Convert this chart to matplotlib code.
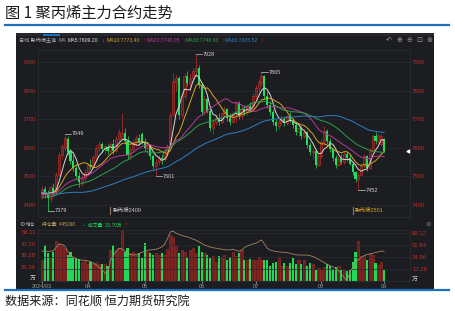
import matplotlib
matplotlib.use("Agg")
import matplotlib.pyplot as plt
from matplotlib.lines import Line2D
from matplotlib.patches import Rectangle
import numpy as np
import pandas as pd

plt.rcParams["font.family"] = ["Liberation Sans", "Noto Sans CJK SC", "DejaVu Sans"]

W, H = 455, 311

# daily OHLC of the PP main contract, 2024-03 .. 2024-09
opens = [7430, 7455, 7440, 7425, 7460, 7445, 7505, 7575, 7600, 7630, 7585, 7555, 7530, 7500, 7480, 7495,
         7515, 7540, 7535, 7565, 7600, 7612, 7595, 7602, 7590, 7612, 7590, 7630, 7635, 7650, 7625, 7570, 7595, 7620, 7635, 7648,
         7622, 7600, 7610, 7570, 7535, 7550, 7565, 7560, 7590, 7605, 7715, 7830, 7845, 7715, 7780, 7850, 7825, 7845, 7870, 7880,
         7820, 7725, 7770, 7730, 7670, 7690, 7705, 7690, 7720, 7735, 7705, 7690, 7720, 7755, 7710, 7735, 7725, 7745, 7735,
         7780, 7810, 7830, 7850, 7780, 7750, 7725, 7690, 7675, 7690, 7700, 7685, 7710, 7695, 7680, 7655, 7670, 7640, 7655, 7610, 7585, 7590, 7540,
         7570, 7620, 7660, 7625, 7595, 7565, 7540, 7560, 7550, 7580, 7565, 7545, 7515, 7490, 7505, 7535, 7570, 7530, 7590, 7640, 7625, 7615,
         7630]
highs = [7465, 7468, 7452, 7470, 7478, 7515, 7585, 7615, 7649, 7640, 7595, 7575, 7545, 7515, 7505, 7525,
         7545, 7560, 7575, 7610, 7625, 7620, 7612, 7615, 7622, 7630, 7640, 7665, 7722, 7670, 7640, 7605, 7630, 7645, 7650, 7655,
         7635, 7620, 7615, 7580, 7560, 7575, 7580, 7600, 7615, 7725, 7860, 7855, 7850, 7790, 7860, 7870, 7860, 7880, 7928, 7890,
         7830, 7780, 7780, 7740, 7700, 7715, 7720, 7725, 7745, 7740, 7720, 7730, 7765, 7765, 7745, 7750, 7750, 7760, 7790,
         7820, 7840, 7865, 7855, 7800, 7765, 7735, 7700, 7700, 7715, 7710, 7715, 7725, 7705, 7690, 7680, 7675, 7665, 7660, 7620, 7600, 7595, 7580,
         7630, 7675, 7665, 7635, 7600, 7575, 7570, 7580, 7590, 7590, 7580, 7550, 7520, 7515, 7545, 7580, 7575, 7600, 7650, 7655, 7650, 7650,
         7635]
lows = [7420, 7425, 7379, 7412, 7432, 7440, 7500, 7560, 7590, 7575, 7545, 7520, 7490, 7462, 7465, 7480,
        7505, 7525, 7530, 7560, 7585, 7585, 7580, 7578, 7585, 7580, 7585, 7620, 7630, 7615, 7560, 7560, 7585, 7605, 7610, 7615,
        7590, 7580, 7560, 7525, 7501, 7540, 7545, 7555, 7580, 7600, 7710, 7800, 7700, 7705, 7770, 7815, 7800, 7830, 7850, 7810,
        7715, 7715, 7720, 7660, 7650, 7680, 7680, 7685, 7705, 7695, 7680, 7685, 7690, 7700, 7700, 7715, 7715, 7725, 7730,
        7770, 7790, 7815, 7770, 7740, 7715, 7680, 7660, 7665, 7680, 7675, 7680, 7690, 7670, 7645, 7640, 7630, 7635, 7600, 7575, 7560, 7530, 7535,
        7565, 7610, 7615, 7585, 7555, 7530, 7535, 7545, 7545, 7555, 7540, 7505, 7480, 7452, 7500, 7530, 7520, 7525, 7585, 7615, 7615, 7605,
        7585]
closes = [7455, 7435, 7425, 7462, 7442, 7505, 7575, 7605, 7635, 7585, 7555, 7530, 7500, 7480, 7495, 7515,
          7540, 7535, 7568, 7600, 7615, 7595, 7605, 7590, 7612, 7590, 7630, 7655, 7650, 7625, 7575, 7595, 7620, 7635, 7620, 7622,
          7600, 7610, 7570, 7535, 7550, 7565, 7560, 7590, 7605, 7715, 7835, 7845, 7715, 7780, 7850, 7825, 7845, 7870, 7880, 7820,
          7725, 7770, 7730, 7670, 7690, 7705, 7690, 7720, 7735, 7705, 7690, 7720, 7755, 7710, 7735, 7725, 7745, 7735, 7780,
          7810, 7830, 7850, 7780, 7750, 7725, 7690, 7675, 7690, 7700, 7685, 7710, 7695, 7680, 7655, 7670, 7640, 7655, 7610, 7585, 7590, 7540, 7570,
          7620, 7660, 7625, 7595, 7565, 7540, 7560, 7550, 7580, 7565, 7545, 7515, 7490, 7505, 7535, 7570, 7530, 7590, 7640, 7625, 7645, 7640,
          7590]
# closes before the first visible day, only needed for the moving averages
hist_closes = [7540, 7545, 7535, 7550, 7530, 7520, 7540, 7525, 7510, 7515, 7500, 7495, 7505, 7480, 7470, 7460,
               7440, 7420, 7410, 7405, 7400, 7395, 7410, 7405, 7390, 7400, 7415, 7410, 7400, 7395, 7405, 7420,
               7410, 7400, 7395, 7405, 7415, 7420, 7410, 7405,
               7415, 7425, 7430, 7420, 7435, 7440, 7430, 7425, 7440, 7445, 7435, 7440, 7430, 7445, 7450, 7440,
               7435, 7445, 7440]
# volume (万手) and open interest (万手)
volumes = [30, 52, 40, 33, 42, 57, 55, 52, 47, 38, 42, 35, 33, 32, 28, 30,
           25, 28, 25, 27, 25, 24, 25, 21, 45, 52, 45, 48, 73, 42, 48, 40, 42, 38, 40, 33,
           55, 42, 40, 38, 40, 38, 40, 38, 46, 66, 63, 50, 40, 45, 42, 35, 45, 48, 40, 50,
           42, 40, 38, 33, 36, 28, 36, 34, 38, 30, 34, 42, 36, 40, 44, 30, 30, 31, 30,
           30, 34, 30, 30, 30, 21, 26, 28, 35, 21, 26, 21, 26, 33, 24, 30, 24, 30, 21, 26, 24, 16, 19,
           16, 20, 24, 22, 18, 20, 22, 16, 18, 15, 16, 27, 42, 57, 36, 38, 30, 40, 38, 26, 23, 28,
           16]
open_interest = [40.3, 40.2, 40.0, 40.2, 40.5, 44.0, 46.6, 46.5, 45.0, 40.0, 36.6, 34.5, 33.0, 32.0, 31.8, 31.5,
                 31.2, 30.5, 29.0, 27.5, 25.0, 23.0, 20.0, 18.0, 31.9, 36.0, 40.0, 42.9, 42.5, 40.5, 38.5, 37.0, 36.6, 37.0, 38.0, 39.0,
                 40.0, 41.0, 41.3, 41.5, 42.0, 42.9, 44.0, 46.5, 52.0, 58.0, 59.0, 57.0, 56.0, 55.0, 54.0, 53.6, 52.5, 51.5, 50.5, 49.0,
                 47.5, 46.0, 45.0, 44.0, 43.4, 43.0, 42.5, 42.0, 41.5, 41.3, 41.5, 41.9, 41.0, 40.0, 41.0, 43.5, 45.0, 46.0, 47.0,
                 47.6, 49.0, 50.7, 47.0, 43.0, 41.3, 40.5, 39.8, 39.5, 39.3, 39.0, 39.0, 38.0, 37.5, 36.8, 36.6, 36.6, 36.5, 36.5, 36.0, 35.2, 34.0, 32.5,
                 31.0, 29.5, 28.0, 26.5, 25.7, 24.0, 22.0, 19.0, 15.5, 12.5, 20.0, 25.0, 29.5, 32.0, 34.5, 36.0, 37.0, 37.5, 38.2, 39.0, 39.5, 40.3,
                 40.0]

month_idx = [0, 16, 36, 56, 75, 98, 120]
month_labels = ["2024/03", "04", "05", "06", "07", "08", "09"]
price_ticks = [7400, 7500, 7600, 7700, 7800, 7900]
oi_ticks = [25.36, 36.28, 47.20, 58.11]
vol_ticks = [17.28, 34.56, 51.84, 69.12]
ma_periods = [5, 10, 20, 30, 60]
extreme_idx = [2, 8, 40, 54, 77, 111]
extreme_kind = ["low", "high", "low", "high", "high", "low"]
roll_idx = [24, 109]
roll_names = ["聚丙烯2409", "聚丙烯2501"]

BG = "#1c1d21"
GRID = "#2a2b30"
RED_TXT = "#b5302c"
RED_EDGE = "#b8322d"
RED_FILL = "#6a1c1c"
GREEN = "#1fe05c"
MA_COLORS = ["#d8d8d8", "#d9a520", "#b8389a", "#2f9e4f", "#2d7fc1"]


def box(x0, y0, x1, y1):
    return [x0 / W, 1 - y1 / H, (x1 - x0) / W, (y1 - y0) / H]


def ftext(x, y, s, **kw):
    kw.setdefault("va", "center")
    kw.setdefault("ha", "left")
    fig.text(x / W, 1 - y / H, s, **kw)


fig = plt.figure(figsize=(W / 100, H / 100), dpi=100)
fig.patch.set_facecolor("white")

# title, blue rules, source
ftext(5, 13, "图 1 聚丙烯主力合约走势", fontsize=11, color="#1a1a1a",
      family=["Noto Sans CJK SC", "DejaVu Sans"])
fig.add_artist(Line2D([5 / W, 449 / W], [1 - 25 / H, 1 - 25 / H], color="#1f6fbf", lw=1.6))
fig.add_artist(Line2D([5 / W, 449 / W], [1 - 290 / H, 1 - 290 / H], color="#1f6fbf", lw=1.6))
ftext(5, 301, "数据来源：同花顺 恒力期货研究院", fontsize=8.7, color="#1a1a1a",
      family=["Noto Sans CJK SC", "DejaVu Sans"])

# dark software panel
fig.add_artist(Rectangle((16 / W, 1 - 289 / H), 418 / W, 256 / H, transform=fig.transFigure,
                         facecolor=BG, edgecolor="none", zorder=0))
fig.add_artist(Rectangle((16 / W, 1 - 36 / H), 418 / W, 3 / H, transform=fig.transFigure,
                         facecolor="#26272c", edgecolor="none", zorder=0))
fig.add_artist(Rectangle((43 / W, 1 - 36 / H), 17 / W, 2 / H, transform=fig.transFigure,
                         facecolor="#1f6fbf", edgecolor="none", zorder=0))

# header of the price chart
hdr = dict(fontsize=3.7)
ftext(19, 41, "日线 聚丙烯主连", color="#b8b8b8", **hdr)
ftext(59, 41, "MA", color="#a0a0a0", **hdr)
ftext(67.5, 41, "MA5:7609.20", color="#e0e0e0", **hdr)
ftext(101, 41, "↓", color=GREEN, **hdr)
ftext(107, 41, "MA10:7773.40", color=MA_COLORS[1], **hdr)
ftext(142, 41, "↑", color="#e03030", **hdr)
ftext(147, 41, "MA20:7740.05", color=MA_COLORS[2], **hdr)
ftext(182, 41, "↑", color="#e03030", **hdr)
ftext(186, 41, "MA30:7748.93", color=MA_COLORS[3], **hdr)
ftext(221, 41, "↑", color="#e03030", **hdr)
ftext(225, 41, "MA60:7685.52", color=MA_COLORS[4], **hdr)
ftext(260, 41, "↑", color="#e03030", **hdr)
for px, sym in zip([389, 399, 409, 419, 429], ["↶", "⊕", "⊖", "⊡", "⊗"]):
    ftext(px, 40, sym, fontsize=5, color="#9a9a9a", ha="center", family=["DejaVu Sans"])

x = np.arange(len(closes))
o = np.array(opens, dtype=float)
c = np.array(closes, dtype=float)
hi = np.array(highs, dtype=float)
lo = np.array(lows, dtype=float)
up = c >= o
body_lo = np.minimum(o, c)
body_h = np.maximum(np.abs(c - o), 1.5)

# price panel
ax = fig.add_axes(box(38, 50, 410, 217))
ax.set_facecolor(BG)
ax.set_xlim(-1.4, 129.1)
ax.set_ylim(7358, 7942)
ax.set_xticks([])
ax.set_yticks(price_ticks)
ax.grid(axis="y", color=GRID, lw=0.5)
ax.tick_params(axis="y", length=0, labelsize=4.3, labelcolor=RED_TXT,
               labelleft=True, labelright=True, pad=1.5)
for s in ax.spines.values():
    s.set_color("#2e2f35")
    s.set_linewidth(0.5)

ax.vlines(x[up], lo[up], hi[up], color=RED_EDGE, lw=0.5, zorder=2)
ax.vlines(x[~up], lo[~up], hi[~up], color=GREEN, lw=0.5, zorder=2)
ax.bar(x[up], body_h[up], bottom=body_lo[up], width=0.75, color=RED_FILL,
       edgecolor=RED_EDGE, lw=0.45, zorder=3)
ax.bar(x[~up], body_h[~up], bottom=body_lo[~up], width=0.75, color=GREEN, lw=0, zorder=3)

all_closes = pd.Series(hist_closes + closes, dtype=float)
for n, col in zip(ma_periods, MA_COLORS):
    ma = all_closes.rolling(n).mean().iloc[len(hist_closes):].to_numpy()
    ax.plot(x, ma, color=col, lw=0.7, zorder=4)

for i, kind in zip(extreme_idx, extreme_kind):
    v = highs[i] if kind == "high" else lows[i]
    ax.plot([i, i + 2.2], [v, v], color="#c8c8c8", lw=0.5, zorder=5)
    ax.text(i + 2.4, v, str(v), fontsize=4, color="#d0d0d0", va="center", ha="left", zorder=5)

for i, name, col in zip(roll_idx, roll_names, ["#c9c9c9", "#d4a52c"]):
    ax.plot([i, i], [7368, 7392], color="#8c7a62", lw=0.8, zorder=5)
    ax.text(i + 0.8, 7380, name, fontsize=4, color=col, va="center", ha="left", zorder=5)

ax.plot([0.995], [closes[-1]], marker="<", ms=2.2, color="white", lw=0,
        transform=ax.get_yaxis_transform(), clip_on=False)

# volume / open interest panel
vhdr = dict(fontsize=3.4)
ftext(19, 225, "⚙", fontsize=4.5, color="#b0b0b0", family=["DejaVu Sans"])
ftext(26, 225, "增仓", color="#b8b8b8", **vhdr)
ftext(42, 225, "持仓量: 445268", color="#c2a060", **vhdr)
ftext(82, 225, "↓", color=GREEN, **vhdr)
ftext(88, 225, "成交量: 31.70万", color=GREEN, **vhdr)
ftext(124, 225, "↑", color="#e03030", **vhdr)
ftext(428, 224, "⚙", fontsize=4.5, color="#8a8a8a", ha="center", family=["DejaVu Sans"])

axv = fig.add_axes(box(38, 230, 410, 281))
axo = axv.twinx()

axv.set_facecolor(BG)
axv.set_xlim(-1.4, 129.1)
axv.set_ylim(0, 73.5)
axv.set_yticks(vol_ticks)
axv.yaxis.tick_right()
axv.grid(axis="y", color=GRID, lw=0.5)
axv.tick_params(axis="y", length=0, labelsize=4.3, labelcolor=RED_TXT, pad=1.5)
axv.set_xticks(month_idx, month_labels)
axv.tick_params(axis="x", length=1.5, width=0.5, color="#cccccc", labelsize=4,
                labelcolor="#9a9a9a", pad=0.8)
for s in axv.spines.values():
    s.set_color("#2e2f35")
    s.set_linewidth(0.5)

vol = np.array(volumes, dtype=float)
axv.bar(x[up], vol[up], width=0.75, color="#6e1c1c", edgecolor="#a82e2a", lw=0.4)
axv.bar(x[~up], vol[~up], width=0.75, color="#21d957", lw=0)

axo.set_ylim(12.27, 59.98)
axo.set_yticks(oi_ticks)
axo.yaxis.tick_left()
axo.tick_params(axis="y", length=0, labelsize=4.3, labelcolor=RED_TXT, pad=1.5)
for s in axo.spines.values():
    s.set_visible(False)
axo.plot(x, open_interest, color="#a58462", lw=0.6)

ftext(30, 278, "万", fontsize=4.3, color="#d0d0d0")
ftext(412, 279, "万", fontsize=4.3, color="#d0d0d0")

fig.savefig("out.png", dpi=100, facecolor="white")
